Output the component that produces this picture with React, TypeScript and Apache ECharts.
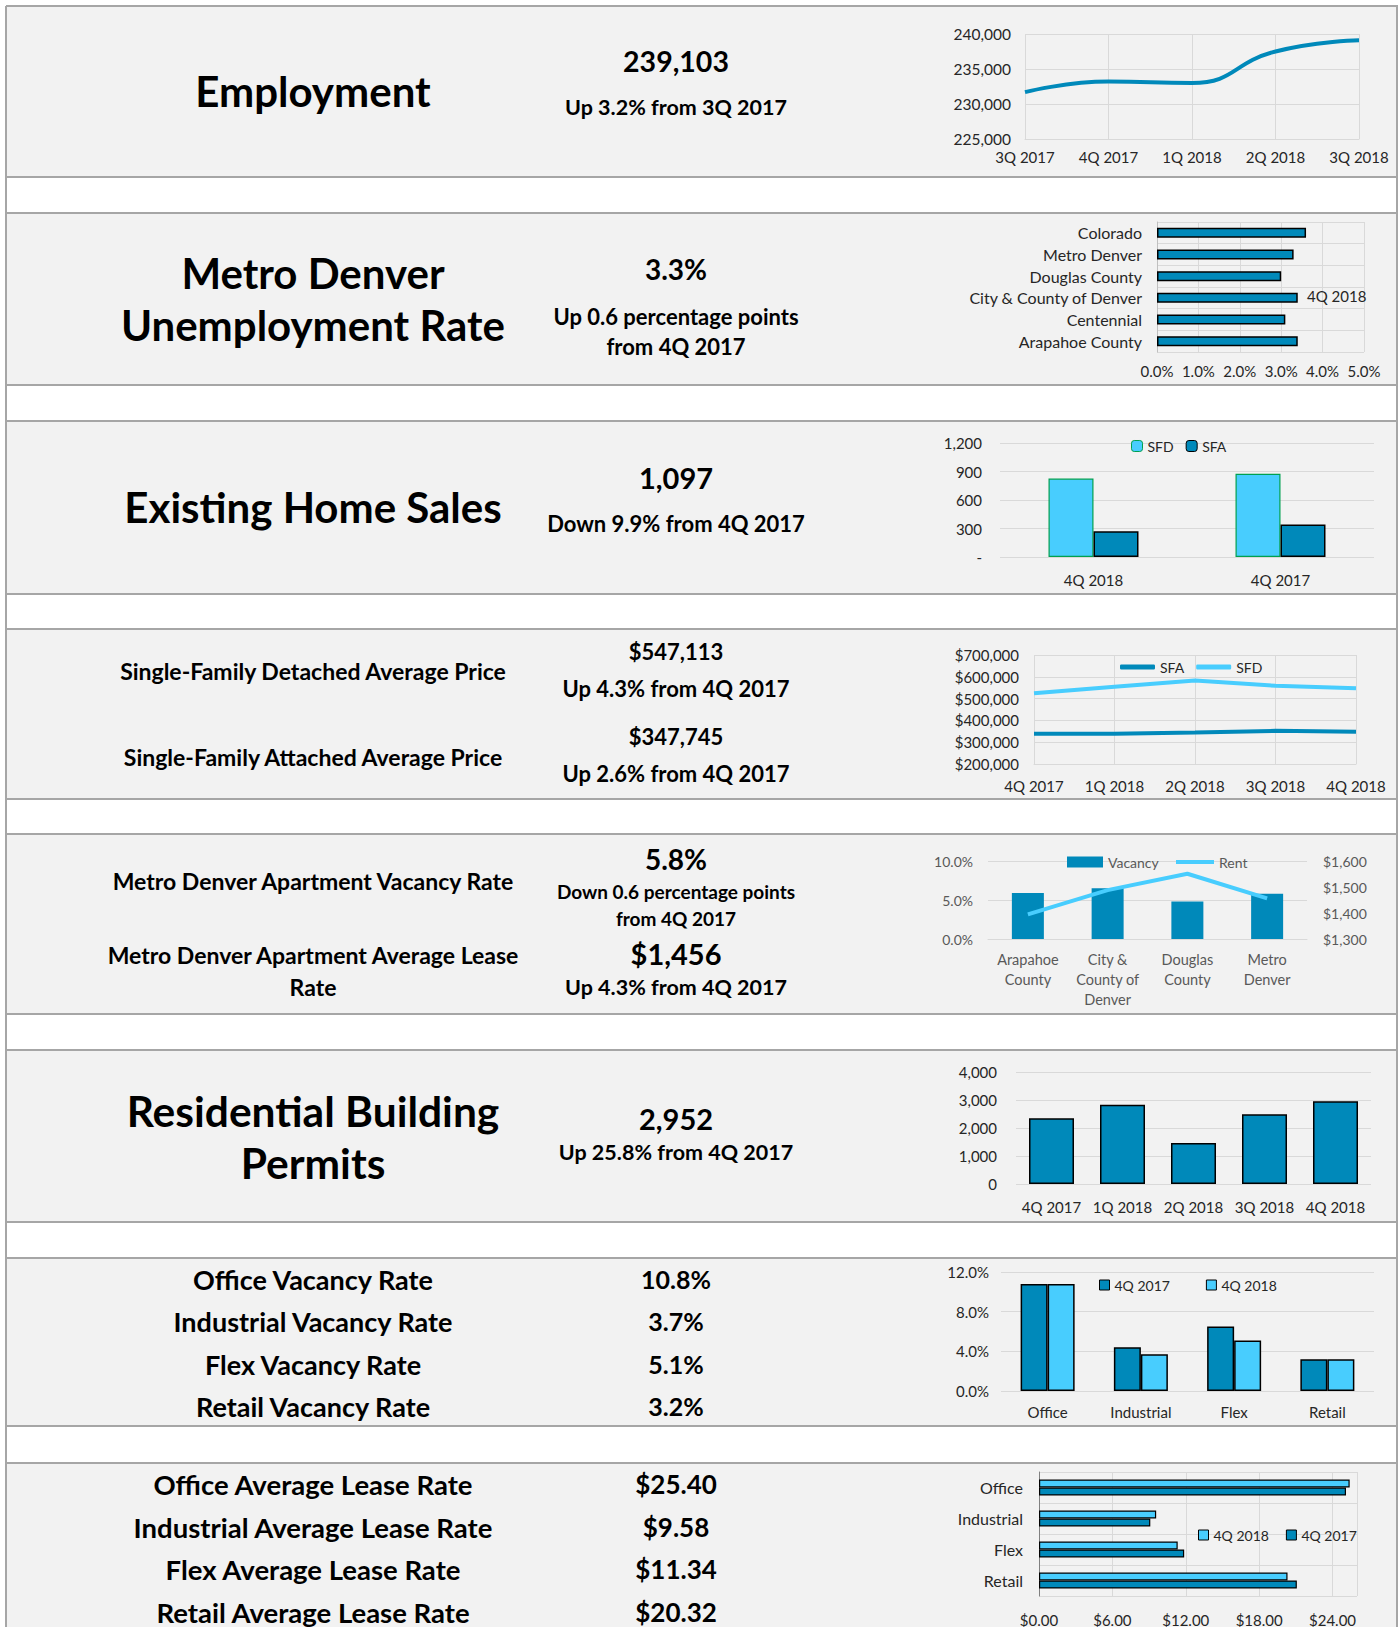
import React, { useEffect, useRef } from 'react';
import * as echarts from 'echarts';

const FONT = 'Lato, "DejaVu Sans", sans-serif';
const DARK = '#0089ba';
const LIGHT = '#48cdfe';
const GRIDC = '#d9d9d9';
const TXT = '#262626';

// ---------- data ----------
const empQuarters = ['3Q 2017', '4Q 2017', '1Q 2018', '2Q 2018', '3Q 2018'];
const empValues = [231700, 233200, 233000, 237500, 239103];

const unempAreas = ['Colorado', 'Metro Denver', 'Douglas County', 'City & County of Denver', 'Centennial', 'Arapahoe County'];
const unempRates = [3.6, 3.3, 3.0, 3.4, 3.1, 3.4];

const homeQuarters = ['4Q 2018', '4Q 2017'];
const sfdSales = [826, 876];
const sfaSales = [271, 342];

const priceQuarters = ['4Q 2017', '1Q 2018', '2Q 2018', '3Q 2018', '4Q 2018'];
const sfaPrices = [338900, 339000, 345000, 352000, 347745];
const sfdPrices = [524600, 554000, 583000, 559000, 547113];

const aptAreas = ['Arapahoe\nCounty', 'City &\nCounty of\nDenver', 'Douglas\nCounty', 'Metro\nDenver'];
const aptVacancy = [5.9, 6.5, 4.8, 5.8];
const aptRent = [1395, 1488, 1551, 1456];

const permitQuarters = ['4Q 2017', '1Q 2018', '2Q 2018', '3Q 2018', '4Q 2018'];
const permits = [2347, 2830, 1460, 2490, 2952];

const propTypes = ['Office', 'Industrial', 'Flex', 'Retail'];
const vac2017 = [10.8, 4.4, 6.5, 3.2];
const vac2018 = [10.8, 3.7, 5.1, 3.2];
const lease2018 = [25.4, 9.58, 11.34, 20.32];
const lease2017 = [25.1, 9.1, 11.87, 21.08];

// ---------- texts ----------
const empTexts = ['Employment', '239,103', 'Up 3.2% from 3Q 2017'];
const unempTexts = ['Metro Denver', 'Unemployment Rate', '3.3%', 'Up 0.6 percentage points', 'from 4Q 2017'];
const homeTexts = ['Existing Home Sales', '1,097', 'Down 9.9% from 4Q 2017'];
const priceTexts = ['Single-Family Detached Average Price', 'Single-Family Attached Average Price', '$547,113', 'Up 4.3% from 4Q 2017', '$347,745', 'Up 2.6% from 4Q 2017'];
const aptTexts = ['Metro Denver Apartment Vacancy Rate', 'Metro Denver Apartment Average Lease', 'Rate', '5.8%', 'Down 0.6 percentage points', 'from 4Q 2017', '$1,456', 'Up 4.3% from 4Q 2017'];
const permitTexts = ['Residential Building', 'Permits', '2,952', 'Up 25.8% from 4Q 2017'];
const vacLabels = ['Office Vacancy Rate', 'Industrial Vacancy Rate', 'Flex Vacancy Rate', 'Retail Vacancy Rate'];
const vacValues = ['10.8%', '3.7%', '5.1%', '3.2%'];
const leaseLabels = ['Office Average Lease Rate', 'Industrial Average Lease Rate', 'Flex Average Lease Rate', 'Retail Average Lease Rate'];
const leaseValues = ['$25.40', '$9.58', '$11.34', '$20.32'];

const fmtComma = (v: number) => Math.round(v).toString().replace(/\B(?=(\d{3})+(?!\d))/g, ',');

function txt(text: string, x: number, y: number, size: number) {
  return {
    type: 'text',
    x,
    y,
    z: 10,
    style: {
      text,
      fill: '#000',
      fontFamily: FONT,
      fontSize: size,
      fontWeight: 'bold',
      align: 'center',
      verticalAlign: 'middle',
      textAlign: 'center',
      textVerticalAlign: 'middle',
    },
  };
}

const lbl = (extra: any = {}) => ({ fontFamily: FONT, fontSize: 15, color: TXT, ...extra });
const split = { show: true, lineStyle: { color: GRIDC, width: 1 } };
const noTick = { show: false };

export default function App() {
  const ref = useRef<HTMLDivElement>(null);
  useEffect(() => {
    if (!ref.current) return;
    const chart = echarts.init(ref.current, undefined, { renderer: 'svg' });

    const sections = [[6, 177], [213, 385], [421, 594], [629, 799], [834, 1014], [1050, 1222], [1258, 1426], [1463, 1640]];
    const graphics: any[] = [];
    sections.forEach(([a, b]) => {
      graphics.push({ type: 'rect', z: -10, shape: { x: 6, y: a, width: 1392, height: b - a }, style: { fill: '#f2f2f2' } });
    });
    const hy: number[] = [];
    sections.forEach(([a, b]) => { hy.push(a); if (b < 1627) hy.push(b); });
    hy.forEach((y) => graphics.push({ type: 'line', z: -5, shape: { x1: 6, y1: y, x2: 1398, y2: y }, style: { stroke: '#a6a6a6', lineWidth: 2 } }));
    [6, 1397].forEach((x) => graphics.push({ type: 'line', z: -5, shape: { x1: x, y1: 6, x2: x, y2: 1627 }, style: { stroke: '#a6a6a6', lineWidth: 2 } }));

    const C1 = 313, C2 = 676;
    graphics.push(
      txt(empTexts[0], C1, 91, 42), txt(empTexts[1], C2, 61, 28.5), txt(empTexts[2], C2, 107, 21.5),
      txt(unempTexts[0], C1, 273, 42), txt(unempTexts[1], C1, 325, 42), txt(unempTexts[2], C2, 269, 28),
      txt(unempTexts[3], C2, 316, 22), txt(unempTexts[4], C2, 346, 22),
      txt(homeTexts[0], C1, 507, 42), txt(homeTexts[1], C2, 477, 29), txt(homeTexts[2], C2, 523, 22),
      txt(priceTexts[0], C1, 671, 23), txt(priceTexts[1], C1, 757, 23), txt(priceTexts[2], C2, 651, 22),
      txt(priceTexts[3], C2, 688, 22), txt(priceTexts[4], C2, 736, 22), txt(priceTexts[5], C2, 773, 22),
      txt(aptTexts[0], C1, 881, 23), txt(aptTexts[1], C1, 955, 23), txt(aptTexts[2], C1, 987, 23),
      txt(aptTexts[3], C2, 859, 28), txt(aptTexts[4], C2, 891, 19), txt(aptTexts[5], C2, 918, 19),
      txt(aptTexts[6], C2, 953, 29), txt(aptTexts[7], C2, 987, 21.5),
      txt(permitTexts[0], C1, 1110, 42.5), txt(permitTexts[1], C1, 1162, 42.5), txt(permitTexts[2], C2, 1118, 29), txt(permitTexts[3], C2, 1152, 21.5),
    );
    const vacY = [1279, 1321, 1364, 1406];
    vacLabels.forEach((t, i) => graphics.push(txt(t, C1, vacY[i], 27)));
    vacValues.forEach((t, i) => graphics.push(txt(t, C2, vacY[i], 25)));
    const leaseY = [1484, 1527, 1569, 1612];
    leaseLabels.forEach((t, i) => graphics.push(txt(t, C1, leaseY[i], 27.5)));
    leaseValues.forEach((t, i) => graphics.push(txt(t, C2, leaseY[i], 26)));

    const legendBase = { padding: 0, selectedMode: false, textStyle: { fontFamily: FONT, fontSize: 15, color: TXT } };

    const option: any = {
      animation: false,
      backgroundColor: '#ffffff',
      graphic: { elements: graphics },
      grid: [
        { left: 1025, top: 34, width: 334, height: 105 },
        { left: 1157, top: 222, width: 207, height: 130 },
        { left: 1000, top: 443, width: 374, height: 114 },
        { left: 1034, top: 655, width: 322, height: 109 },
        { left: 988, top: 861, width: 319, height: 78 },
        { left: 1016, top: 1072, width: 355, height: 112 },
        { left: 1001, top: 1272, width: 373, height: 119 },
        { left: 1039, top: 1472, width: 318, height: 126 },
      ],
      xAxis: [
        { gridIndex: 0, type: 'category', data: empQuarters, boundaryGap: false, axisLine: { lineStyle: { color: GRIDC } }, axisTick: noTick, splitLine: split, axisLabel: lbl({ margin: 10, interval: 0 }) },
        { gridIndex: 1, type: 'value', min: 0, max: 5, interval: 1, axisLine: { show: false }, axisTick: noTick, splitLine: split, axisLabel: lbl({ margin: 11, formatter: (v: number) => v.toFixed(1) + '%' }) },
        { gridIndex: 2, type: 'category', data: homeQuarters, axisLine: { show: false }, axisTick: noTick, axisLabel: lbl({ margin: 15, interval: 0 }) },
        { gridIndex: 3, type: 'category', data: priceQuarters, boundaryGap: false, axisLine: { lineStyle: { color: GRIDC } }, axisTick: noTick, splitLine: split, axisLabel: lbl({ margin: 14, interval: 0 }) },
        { gridIndex: 4, type: 'category', data: aptAreas, axisLine: { lineStyle: { color: GRIDC } }, axisTick: noTick, axisLabel: { fontFamily: FONT, fontSize: 14.5, color: '#595959', lineHeight: 20, margin: 10, interval: 0 } },
        { gridIndex: 5, type: 'category', data: permitQuarters, axisLine: { show: false }, axisTick: noTick, axisLabel: lbl({ margin: 15, interval: 0 }) },
        { gridIndex: 6, type: 'category', data: propTypes, axisLine: { show: false }, axisTick: noTick, axisLabel: lbl({ margin: 13, interval: 0 }) },
        { gridIndex: 7, type: 'value', min: 0, max: 26, interval: 6, axisLine: { show: false }, axisTick: noTick, splitLine: split, axisLabel: lbl({ margin: 16, showMaxLabel: false, formatter: (v: number) => '$' + v.toFixed(2) }) },
      ],
      yAxis: [
        { gridIndex: 0, type: 'value', min: 225000, max: 240000, interval: 5000, axisLine: { show: false }, axisTick: noTick, splitLine: split, axisLabel: lbl({ fontSize: 15.5, margin: 14, formatter: fmtComma }) },
        { gridIndex: 1, type: 'category', data: unempAreas, inverse: true, axisLine: { lineStyle: { color: '#bfbfbf' } }, axisTick: noTick, splitLine: split, axisLabel: lbl({ fontSize: 16, margin: 15, interval: 0 }) },
        { gridIndex: 2, type: 'value', min: 0, max: 1200, interval: 300, axisLine: { show: false }, axisTick: noTick, splitLine: split, axisLabel: lbl({ margin: 18, formatter: (v: number) => (v === 0 ? '-' : fmtComma(v)) }) },
        { gridIndex: 3, type: 'value', min: 200000, max: 700000, interval: 100000, axisLine: { show: false }, axisTick: noTick, splitLine: split, axisLabel: lbl({ margin: 15, formatter: (v: number) => '$' + fmtComma(v) }) },
        { gridIndex: 4, type: 'value', min: 0, max: 10, interval: 5, axisLine: { show: false }, axisTick: noTick, splitLine: split, axisLabel: { fontFamily: FONT, fontSize: 14, color: '#595959', margin: 15, formatter: (v: number) => v.toFixed(1) + '%' } },
        { gridIndex: 4, type: 'value', position: 'right', min: 1300, max: 1600, interval: 100, axisLine: { show: false }, axisTick: noTick, splitLine: { show: false }, axisLabel: { fontFamily: FONT, fontSize: 14, color: '#595959', margin: 16, formatter: (v: number) => '$' + fmtComma(v) } },
        { gridIndex: 5, type: 'value', min: 0, max: 4000, interval: 1000, axisLine: { show: false }, axisTick: noTick, splitLine: split, axisLabel: lbl({ margin: 19, formatter: fmtComma }) },
        { gridIndex: 6, type: 'value', min: 0, max: 12, interval: 4, axisLine: { show: false }, axisTick: noTick, splitLine: split, axisLabel: lbl({ margin: 12, formatter: (v: number) => v.toFixed(1) + '%' }) },
        { gridIndex: 7, type: 'category', data: propTypes, inverse: true, axisLine: { lineStyle: { color: '#808080' } }, axisTick: noTick, splitLine: split, axisLabel: lbl({ fontSize: 16, margin: 16, interval: 0 }) },
      ],
      legend: [
        { ...legendBase, data: [{ name: '4Q 2018', itemStyle: { color: 'rgba(0,0,0,0)', borderWidth: 0 } }], left: 1302, top: 288, itemWidth: 0, itemHeight: 0 },
        { ...legendBase, data: [{ name: 'SFD', itemStyle: { color: LIGHT, borderColor: '#00a050', borderWidth: 1 } }, { name: 'SFA', itemStyle: { color: DARK, borderColor: '#000', borderWidth: 1 } }], left: 1131, top: 439, itemWidth: 11, itemHeight: 11, itemGap: 12, textStyle: { ...legendBase.textStyle, fontSize: 14 } },
        { ...legendBase, data: [{ name: 'SFA', icon: 'roundRect', itemStyle: { color: DARK, borderWidth: 0 } }, { name: 'SFD', icon: 'roundRect', itemStyle: { color: LIGHT, borderWidth: 0 } }], left: 1120, top: 660, itemWidth: 35, itemHeight: 5, itemGap: 12, textStyle: { ...legendBase.textStyle, fontSize: 14 } },
        { ...legendBase, data: [{ name: 'Vacancy', icon: 'rect', itemStyle: { color: DARK, borderWidth: 0 } }], left: 1067, top: 855, itemWidth: 36, itemHeight: 11, textStyle: { fontFamily: FONT, fontSize: 14, color: '#595959' } },
        { ...legendBase, data: [{ name: 'Rent', icon: 'rect', itemStyle: { color: LIGHT, borderWidth: 0 } }], left: 1176, top: 855, itemWidth: 38, itemHeight: 4, textStyle: { fontFamily: FONT, fontSize: 14, color: '#595959' } },
        { ...legendBase, data: [{ name: '4Q 2017', icon: 'rect', itemStyle: { color: DARK, borderColor: '#000', borderWidth: 1 } }, { name: '4Q 2018', icon: 'rect', itemStyle: { color: LIGHT, borderColor: '#000', borderWidth: 1 } }], left: 1099, top: 1278, itemWidth: 10, itemHeight: 10, itemGap: 36, textStyle: { ...legendBase.textStyle, fontSize: 14 } },
        { ...legendBase, data: [{ name: '4Q 2018', icon: 'rect', itemStyle: { color: LIGHT, borderColor: '#000', borderWidth: 1 } }, { name: '4Q 2017', icon: 'rect', itemStyle: { color: DARK, borderColor: '#000', borderWidth: 1 } }], left: 1198, top: 1528, itemWidth: 10, itemHeight: 10, itemGap: 17, textStyle: { ...legendBase.textStyle, fontSize: 14 } },
      ],
      series: [
        { name: 'Employment', type: 'line', xAxisIndex: 0, yAxisIndex: 0, data: empValues, smooth: 0.5, showSymbol: false, lineStyle: { color: DARK, width: 4 }, itemStyle: { color: DARK } },
        { name: '4Q 2018', type: 'bar', xAxisIndex: 1, yAxisIndex: 1, data: unempRates, barWidth: 10, itemStyle: { color: DARK, borderColor: '#000', borderWidth: 1.5 } },
        { name: 'SFD', type: 'bar', xAxisIndex: 2, yAxisIndex: 2, data: sfdSales, barWidth: 45, barGap: '0%', itemStyle: { color: LIGHT, borderColor: '#00a050', borderWidth: 1.2 } },
        { name: 'SFA', type: 'bar', xAxisIndex: 2, yAxisIndex: 2, data: sfaSales, barWidth: 45, barGap: '0%', itemStyle: { color: DARK, borderColor: '#000', borderWidth: 1.5 } },
        { name: 'SFA', type: 'line', xAxisIndex: 3, yAxisIndex: 3, data: sfaPrices, showSymbol: false, lineStyle: { color: DARK, width: 4 }, itemStyle: { color: DARK } },
        { name: 'SFD', type: 'line', xAxisIndex: 3, yAxisIndex: 3, data: sfdPrices, showSymbol: false, lineStyle: { color: LIGHT, width: 4 }, itemStyle: { color: LIGHT } },
        { name: 'Vacancy', type: 'bar', xAxisIndex: 4, yAxisIndex: 4, data: aptVacancy, barWidth: 32, itemStyle: { color: DARK } },
        { name: 'Rent', type: 'line', xAxisIndex: 4, yAxisIndex: 5, data: aptRent, showSymbol: false, lineStyle: { color: LIGHT, width: 4 }, itemStyle: { color: LIGHT } },
        { name: 'Permits', type: 'bar', xAxisIndex: 5, yAxisIndex: 6, data: permits, barWidth: 45, itemStyle: { color: DARK, borderColor: '#000', borderWidth: 1.5 } },
        { name: '4Q 2017', type: 'bar', xAxisIndex: 6, yAxisIndex: 7, data: vac2017, barWidth: 27, barGap: '0%', itemStyle: { color: DARK, borderColor: '#000', borderWidth: 1.5 } },
        { name: '4Q 2018', type: 'bar', xAxisIndex: 6, yAxisIndex: 7, data: vac2018, barWidth: 27, barGap: '0%', itemStyle: { color: LIGHT, borderColor: '#000', borderWidth: 1.5 } },
        { name: '4Q 2018', type: 'bar', xAxisIndex: 7, yAxisIndex: 8, data: lease2018, barWidth: 8, barGap: '0%', itemStyle: { color: LIGHT, borderColor: '#000', borderWidth: 1.2 } },
        { name: '4Q 2017', type: 'bar', xAxisIndex: 7, yAxisIndex: 8, data: lease2017, barWidth: 8, barGap: '0%', itemStyle: { color: DARK, borderColor: '#000', borderWidth: 1.2 } },
      ],
    };
    chart.setOption(option);
    return () => chart.dispose();
  }, []);
  return <div ref={ref} style={{ position: 'absolute', left: 0, top: 0, width: 1399, height: 1627 }} />;
}
